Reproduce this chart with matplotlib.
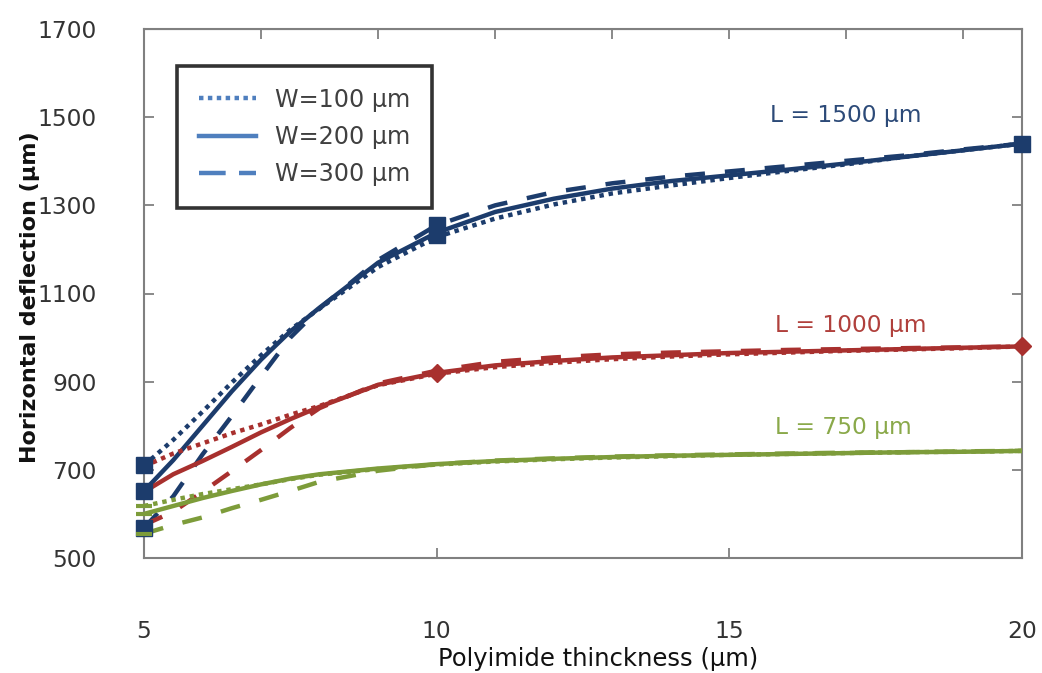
import matplotlib.pyplot as plt
from matplotlib.lines import Line2D

# thickness (um) at which the curves were read
x = [5, 5.5, 6, 6.5, 7, 7.5, 8, 9, 10, 11, 12, 13, 14, 15, 16, 17, 18, 19, 20]

# L = 1500 um
l1500_w100 = [710, 768, 832, 898, 960, 1018, 1066, 1160, 1228, 1270, 1302, 1327, 1345, 1362, 1378, 1393, 1410, 1425, 1440]
l1500_w200 = [652, 722, 800, 878, 950, 1014, 1068, 1170, 1238, 1285, 1315, 1338, 1355, 1368, 1381, 1395, 1410, 1425, 1440]
l1500_w300 = [568, 640, 735, 822, 912, 1000, 1066, 1176, 1255, 1300, 1330, 1350, 1365, 1377, 1389, 1401, 1413, 1427, 1440]

# L = 1000 um
l1000_w100 = [708, 737, 760, 783, 803, 825, 845, 892, 918, 933, 943, 951, 957, 962, 966, 970, 973, 976, 980]
l1000_w200 = [650, 690, 720, 752, 785, 815, 843, 893, 920, 937, 947, 955, 960, 965, 968, 971, 974, 977, 980]
l1000_w300 = [575, 605, 650, 697, 745, 795, 840, 896, 925, 945, 955, 962, 966, 969, 972, 974, 976, 978, 980]

# L = 750 um
l750_w100 = [618, 632, 645, 656, 667, 679, 689, 702, 712, 719, 724, 728, 731, 734, 736, 738, 740, 741, 743]
l750_w200 = [600, 618, 636, 652, 667, 680, 690, 703, 713, 720, 725, 729, 732, 734, 736, 738, 740, 741, 743]
l750_w300 = [555, 575, 592, 613, 632, 652, 673, 698, 713, 721, 726, 730, 733, 735, 737, 739, 740, 742, 743]

# marker points
blue_mx = [5, 5, 5, 10, 10, 20]
blue_my = [710, 652, 568, 1255, 1232, 1440]
red_mx = [10, 20]
red_my = [920, 980]
green_mx = [5, 5, 5]
green_my = [618, 600, 555]

widths = ["W=100 μm", "W=200 μm", "W=300 μm"]
lengths = ["L = 1500 μm", "L = 1000 μm", "L = 750 μm"]

BLUE = "#1c3c6c"
RED = "#a8302e"
GREEN = "#7d9c3a"
LEG_BLUE = "#4f7fbe"

dotted = (0, (1, 1.1))
dashed = (0, (4.5, 4.5))

fig = plt.figure(figsize=(10.42, 6.73), dpi=100)
ax = fig.add_axes([144 / 1042, 1 - 558 / 673, 878 / 1042, 529 / 673])

lw = 3.2
groups = [
    (BLUE, [l1500_w100, l1500_w200, l1500_w300]),
    (RED, [l1000_w100, l1000_w200, l1000_w300]),
    (GREEN, [l750_w100, l750_w200, l750_w300]),
]
for color, series in groups:
    for ys, ls in zip(series, [dotted, "-", dashed]):
        ax.plot(x, ys, color=color, lw=lw, linestyle=ls, zorder=3)

ax.plot(blue_mx, blue_my, linestyle="none", marker="s", ms=12, color=BLUE, zorder=4, clip_on=False)
ax.plot(red_mx, red_my, linestyle="none", marker="D", ms=9, color=RED, zorder=4, clip_on=False)
ax.plot(green_mx, green_my, linestyle="none", marker="_", ms=12, mew=3, color=GREEN, zorder=4, clip_on=False)

ax.set_xlim(5, 20)
ax.set_ylim(500, 1700)
ax.set_xticks([5, 10, 15, 20])
ax.set_yticks(range(500, 1701, 200))

ax.tick_params(axis="both", direction="in", length=7, width=1.3, color="#808080",
               labelsize=16.8, labelcolor="#333333", top=False, right=True)
ax.tick_params(axis="x", pad=45)
ax.tick_params(axis="y", pad=34)

# secondary ticks on the top edge
top = ax.secondary_xaxis("top")
top.set_xticks(range(5, 21, 2))
top.tick_params(direction="in", length=7, width=1.3, color="#808080", labeltop=False)
top.spines["top"].set_color("#808080")

for s in ax.spines.values():
    s.set_color("#808080")
    s.set_linewidth(1.5)

ax.set_xlabel("Polyimide thinckness (μm)", fontsize=17.5, color="#111111")
ax.xaxis.set_label_coords(0.517, -0.168)
ax.set_ylabel("Horizontal deflection (μm)", fontsize=16, fontweight="bold",
              family=["Liberation Sans Narrow", "DejaVu Sans"], color="#111111")
ax.yaxis.set_label_coords(-0.118, 0.493)

ax.text(0.713, 0.837, lengths[0], transform=ax.transAxes, fontsize=16.8, color="#2c4a78", va="center")
ax.text(0.719, 0.44, lengths[1], transform=ax.transAxes, fontsize=16.8, color="#b0403c", va="center")
ax.text(0.719, 0.246, lengths[2], transform=ax.transAxes, fontsize=16.8, color="#8aa94a", va="center")

handles = [
    Line2D([], [], color=LEG_BLUE, lw=3.2, linestyle=(0, (1, 1))),
    Line2D([], [], color=LEG_BLUE, lw=3.2, linestyle="-"),
    Line2D([], [], color=LEG_BLUE, lw=3.2, linestyle=(0, (6, 3))),
]
leg = ax.legend(handles, widths, loc="upper left", bbox_to_anchor=(0.0376, 0.930),
                borderaxespad=0, fontsize=17.2, frameon=True, fancybox=False,
                handlelength=2.4, handletextpad=0.8, labelspacing=0.56,
                borderpad=0.9, labelcolor="#404040")
leg.get_frame().set_edgecolor("black")
leg.get_frame().set_linewidth(2.6)
leg.set_zorder(5)

fig.savefig("out.png", dpi=100)
